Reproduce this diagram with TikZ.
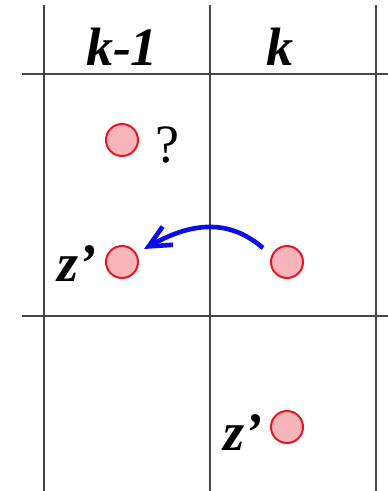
\documentclass[tikz,border=0pt]{standalone}
\usepackage{fontspec}
\setmainfont{Liberation Serif}
\usetikzlibrary{arrows.meta}
\definecolor{grid}{RGB}{70,70,70}
\definecolor{dotfill}{RGB}{248,182,188}
\definecolor{dotline}{RGB}{232,22,32}
\definecolor{arrowblue}{RGB}{10,10,235}
\tikzset{
  gridline/.style={draw=grid, line width=1.4pt},
  dot/.style={circle, draw=dotline, fill=dotfill, line width=2pt, minimum size=32pt, inner sep=0pt},
  lbl/.style={font=\fontsize{54}{60}\selectfont\bfseries\itshape, inner sep=0pt, anchor=base},
  qlbl/.style={font=\fontsize{54}{60}\selectfont, inner sep=0pt, anchor=base},
  move/.style={draw=arrowblue, line width=4.6pt, -{Straight Barb[length=22pt, width=21pt, line width=4.6pt]}}
}
\begin{document}
\begin{tikzpicture}[x=1pt, y=-1pt]
\useasboundingbox (0,0) rectangle (388,491);
% grid
\coordinate (v1t) at (44,5); \coordinate (v1b) at (44,491);
\coordinate (v2t) at (210,5); \coordinate (v2b) at (210,491);
\coordinate (v3t) at (376,5); \coordinate (v3b) at (376,491);
\coordinate (h1l) at (22,74); \coordinate (h1r) at (388,74);
\coordinate (h2l) at (22,316); \coordinate (h2r) at (388,316);
\draw[gridline] (v1t) -- (v1b);
\draw[gridline] (v2t) -- (v2b);
\draw[gridline] (v3t) -- (v3b);
\draw[gridline] (h1l) -- (h1r);
\draw[gridline] (h2l) -- (h2r);
% headers
\node[lbl] (hk1) at (122,65) {k-1};
\node[lbl] (hk) at (280,65) {k};
% dots
\node[dot] (q) at (122,140) {};
\node[qlbl] (qm) at (167,162) {?};
\node[dot] (zl) at (122,262) {};
\node[lbl] (zll) at (77,281) {z’};
\node[dot] (zr) at (287,262) {};
\node[dot] (zb) at (287,427) {};
\node[lbl] (zbl) at (243,450) {z’};
% arrow
\coordinate (as) at ([shift={(-24,-14)}]zr.center);
\coordinate (ae) at ([shift={(22,-13)}]zl.center);
\draw[move] (as) .. controls (225,215) and (185,226) .. (ae);
\end{tikzpicture}
\end{document}
